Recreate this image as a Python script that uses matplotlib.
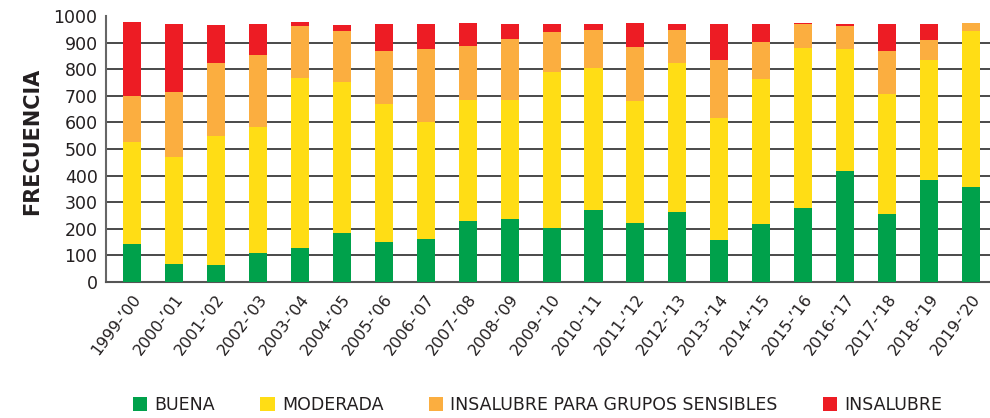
import matplotlib
matplotlib.use("Agg")
import matplotlib.pyplot as plt
import numpy as np
from matplotlib.patches import Patch

plt.rcParams['font.family'] = ['DejaVu Sans']

seasons = ["1999-’00", "2000-’01", "2001-’02", "2002-’03", "2003-’04", "2004-’05",
           "2005-’06", "2006-’07", "2007-’08", "2008-’09", "2009-’10", "2010-’11",
           "2011-’12", "2012-’13", "2013-’14", "2014-’15", "2015-’16", "2016-’17",
           "2017-’18", "2018-’19", "2019-’20"]
buena = [142, 67, 63, 108, 127, 184, 150, 161, 229, 237, 203, 271, 222, 263, 157, 218, 278, 418, 256, 384, 358]
moderada = [383, 404, 484, 473, 639, 567, 521, 442, 457, 449, 585, 533, 457, 559, 458, 544, 601, 457, 449, 450, 585]
insalubre_gs = [176, 242, 275, 272, 196, 192, 197, 272, 201, 227, 152, 143, 204, 125, 219, 140, 91, 87, 163, 75, 31]
insalubre = [276, 257, 144, 117, 15, 23, 102, 95, 87, 57, 30, 23, 91, 23, 136, 68, 4, 8, 102, 61, 0]
yticks = [0, 100, 200, 300, 400, 500, 600, 700, 800, 900, 1000]

series = [("BUENA", buena, "#00A14B"),
          ("MODERADA", moderada, "#FFDD15"),
          ("INSALUBRE PARA GRUPOS SENSIBLES", insalubre_gs, "#FBAE40"),
          ("INSALUBRE", insalubre, "#ED1C24")]

fig = plt.figure(figsize=(9.9, 4.18), dpi=100)
ax = fig.add_axes([0.107, 0.3254, 0.893, 0.6363])

x = np.arange(len(seasons))
bottom = np.zeros(len(seasons))
handles = []
for name, vals, col in series:
    v = np.array(vals, dtype=float)
    ax.bar(x, v, bottom=bottom, width=0.43, color=col, zorder=3, linewidth=0)
    bottom += v
    handles.append(Patch(facecolor=col, label=name))

ax.set_ylim(0, 1000)
ax.set_xlim(-0.62, 20.45)
ax.set_yticks(yticks)
ax.set_yticklabels([str(t) for t in yticks], fontsize=12.5, color="#231F20")
ax.set_xticks(x)
ax.set_xticklabels(seasons, rotation=53, ha="right", rotation_mode="anchor",
                   fontsize=11.5, color="#231F20")
ax.tick_params(axis="both", length=0)
ax.tick_params(axis="y", pad=6)
ax.tick_params(axis="x", pad=7)

ax.yaxis.grid(True, color="#3a3a3a", linewidth=1.3, zorder=1)
gl = ax.get_ygridlines()
gl[0].set_visible(False)
gl[-1].set_visible(False)
ax.set_axisbelow(True)

for s in ["top", "right"]:
    ax.spines[s].set_visible(False)
ax.spines["left"].set_color("#666666")
ax.spines["left"].set_linewidth(1.5)
ax.spines["bottom"].set_color("#555555")
ax.spines["bottom"].set_linewidth(1.5)

ax.set_ylabel("FRECUENCIA", fontsize=15, fontweight="bold", color="#231F20")
ax.yaxis.set_label_coords(-0.0724, 0.528)

fig.legend(handles=handles, loc="center", bbox_to_anchor=(0.543, 0.031), ncol=4,
           frameon=False, fontsize=12.5, handlelength=0.85, handleheight=0.85,
           handletextpad=0.4, columnspacing=2.6, labelcolor="#231F20")

fig.savefig("out.png", dpi=100)
